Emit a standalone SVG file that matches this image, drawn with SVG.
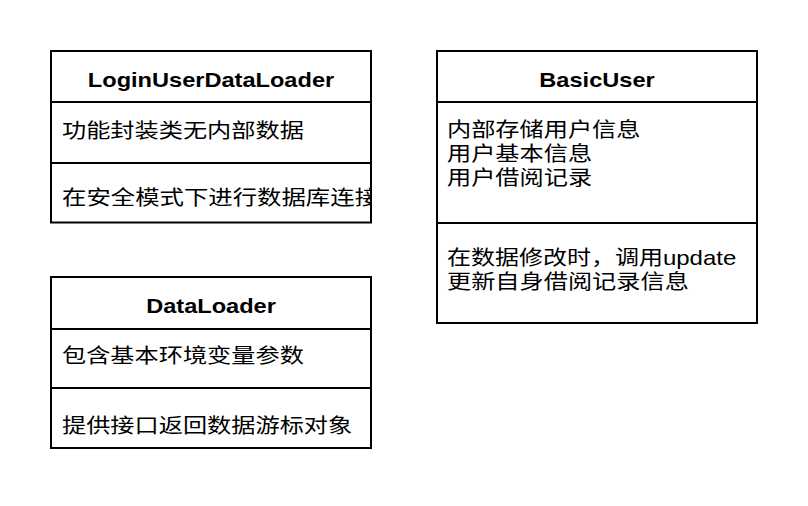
<svg xmlns="http://www.w3.org/2000/svg" width="808" height="506" viewBox="0 0 808 506">
<style>
.box{fill:#fff;stroke:#000;stroke-width:2}
.ln{stroke:#000;stroke-width:2;fill:none}
.t{font-family:"Liberation Sans","Noto Sans CJK SC",sans-serif;font-size:20px;fill:#000}
.h{font-weight:bold;text-anchor:middle}
</style>
<defs>
<clipPath id="c1"><rect x="52" y="164" width="318" height="58"/></clipPath>
</defs>
<rect width="808" height="506" fill="#fff"/>
<g id="LoginUserDataLoader">
<rect class="box" x="51" y="51" width="320" height="171.5"/>
<line class="ln" x1="51" y1="102" x2="371" y2="102"/>
<line class="ln" x1="51" y1="163" x2="371" y2="163"/>
<text class="t h" transform="translate(211,87) scale(1.18,1)">LoginUserDataLoader</text>
<text class="t" transform="translate(62,138) scale(1.21,1)">功能封装类无内部数据</text>
<g clip-path="url(#c1)"><text class="t" transform="translate(62,205) scale(1.22,1)">在安全模式下进行数据库连接</text></g>
</g>
<g id="BasicUser">
<rect class="box" x="437" y="51" width="320" height="272"/>
<line class="ln" x1="437" y1="102" x2="757" y2="102"/>
<line class="ln" x1="437" y1="223" x2="757" y2="223"/>
<text class="t h" transform="translate(597,87) scale(1.18,1)">BasicUser</text>
<text class="t" transform="translate(447,137) scale(1.21,1)">内部存储用户信息</text>
<text class="t" transform="translate(447,161) scale(1.21,1)">用户基本信息</text>
<text class="t" transform="translate(447,185) scale(1.21,1)">用户借阅记录</text>
<text class="t" transform="translate(447,265) scale(1.2,1)">在数据修改时，调用update</text>
<text class="t" transform="translate(447,289) scale(1.21,1)">更新自身借阅记录信息</text>
</g>
<g id="DataLoader">
<rect class="box" x="51" y="277" width="320" height="171"/>
<line class="ln" x1="51" y1="329" x2="371" y2="329"/>
<line class="ln" x1="51" y1="388" x2="371" y2="388"/>
<text class="t h" transform="translate(211,313) scale(1.18,1)">DataLoader</text>
<text class="t" transform="translate(62,363) scale(1.21,1)">包含基本环境变量参数</text>
<text class="t" transform="translate(62,433) scale(1.21,1)">提供接口返回数据游标对象</text>
</g>
<g id="connectors"></g>
</svg>
